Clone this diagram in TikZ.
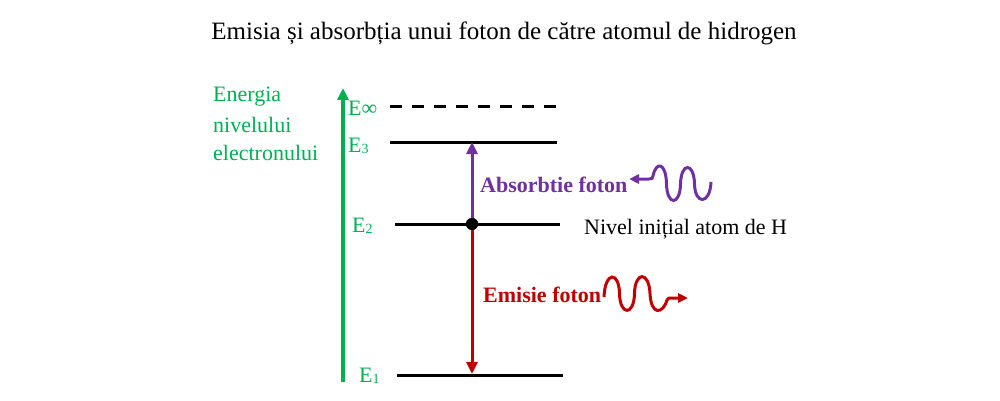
\documentclass[tikz,border=0pt]{standalone}
\usepackage{fontspec}
\setmainfont{Liberation Serif}
\usetikzlibrary{arrows.meta}
\definecolor{egreen}{RGB}{0,176,80}
\definecolor{epurple}{RGB}{112,48,160}
\definecolor{ered}{RGB}{192,0,0}
\newcommand\esub[1]{\raisebox{-1.5pt}{\fontsize{14}{14}\selectfont #1}}
\begin{document}
\begin{tikzpicture}[x=1pt,y=-1pt,
  lvl/.style={line width=3pt,black},
  elabel/.style={anchor=base west,inner sep=0,text=egreen,font=\fontsize{22}{22}\selectfont},
  txt/.style={anchor=base west,inner sep=0,font=\fontsize{22}{22}\selectfont},
  btxt/.style={anchor=base west,inner sep=0,font=\bfseries\fontsize{22}{22}\selectfont},
  tr/.style={line width=3pt,-{Triangle[length=12pt,width=11pt]}},
  wave/.style={line width=3pt,-{Triangle[length=10pt,width=9pt]}}]
\useasboundingbox (0,0) rectangle (1000,401);
% title
\node[anchor=base,inner sep=0,font=\fontsize{25}{25}\selectfont] (title) at (504,40) {Emisia și absorbția unui foton de către atomul de hidrogen};
% energy axis
\coordinate (axb) at (343,382);
\coordinate (axt) at (343,88);
\draw[egreen,line width=3.2pt,-{Triangle[length=12pt,width=11pt]}] (axb) -- (axt);
\node[elabel] (en1) at (213,102) {Energia};
\node[elabel] (en2) at (213,132) {nivelului};
\node[elabel] (en3) at (213,160) {electronului};
% levels
\coordinate (inf1) at (390,107); \coordinate (inf2) at (556,107);
\coordinate (e3a) at (390,142); \coordinate (e3b) at (557,142);
\coordinate (e2a) at (395,224); \coordinate (e2b) at (560,224);
\coordinate (e1a) at (397,375); \coordinate (e1b) at (563,375);
\draw[lvl,dash pattern=on 12pt off 10pt] (inf1) -- (inf2);
\draw[lvl] (e3a) -- (e3b);
\draw[lvl] (e2a) -- (e2b);
\draw[lvl] (e1a) -- (e1b);
\node[elabel] (linf) at (348,115) {E∞};
\node[elabel] (l3) at (348,152) {E\esub{3}};
\node[elabel] (l2) at (352,232) {E\esub{2}};
\node[elabel] (l1) at (359,382) {E\esub{1}};
% transitions
\node[circle,fill=black,inner sep=0,minimum size=12pt] (dot) at (472,224) {};
\coordinate (p3) at (472,142);
\coordinate (p1) at (472,374);
\draw[tr,epurple] (dot.center) -- (p3);
\draw[tr,ered] (dot.center) -- (p1);
\node[circle,fill=black,inner sep=0,minimum size=12pt] at (dot) {};
% labels
\node[btxt,text=epurple] (abs) at (480,192) {Absorbtie foton};
\node[txt] (niv) at (584,234) {Nivel inițial atom de H};
\node[btxt,text=ered] (emi) at (483,302) {Emisie foton};
% photons
\draw[wave,ered] (604,297) .. controls (605,271) and (619,271) .. (619.5,293.5)
  .. controls (620,316) and (634,316) .. (634.5,293.5)
  .. controls (635,271) and (649,271) .. (650,293.5)
  .. controls (651,316) and (663,314) .. (667,300)
  .. controls (668,298) and (669,298) .. (672,298) -- (688,298);
\draw[wave,epurple] (711,182) .. controls (710,205) and (695,205) .. (694.5,184)
  .. controls (694,162) and (681,162) .. (680.5,184)
  .. controls (680,206) and (667,206) .. (666.5,184)
  .. controls (666,162) and (656,161) .. (653,176)
  .. controls (652.5,178.5) and (652,179) .. (649,179) -- (629,179);
\end{tikzpicture}
\end{document}
